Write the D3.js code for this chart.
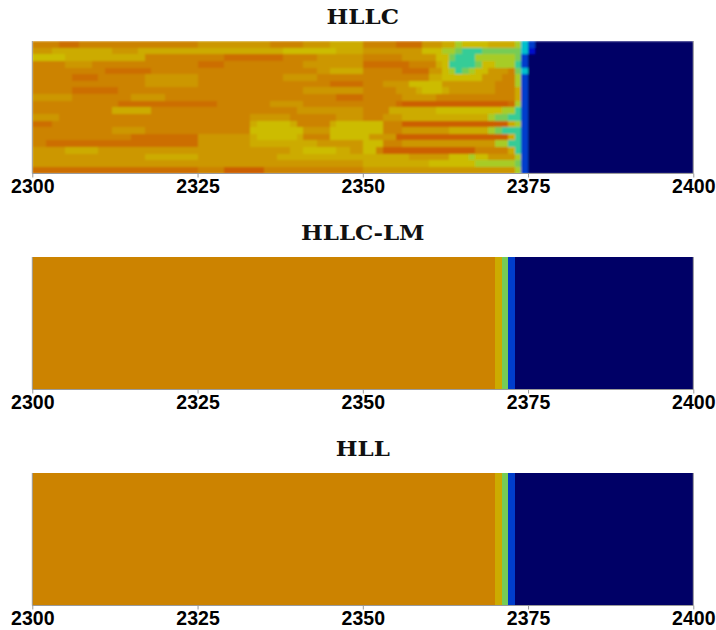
<!DOCTYPE html>
<html>
<head>
<meta charset="utf-8">
<script src="https://cdn.jsdelivr.net/npm/d3@7"></script>
<style>
  html, body { margin: 0; padding: 0; background: #fff; }
  svg { display: block; }
</style>
</head>
<body>
<svg id="chart" width="716" height="630"></svg>
<script>
// Panel titles (one solver per panel)
const titles = ["HLLC", "HLLC-LM", "HLL"];

// Axis
const xDomain = [2300, 2400];
const xTicks = [2300, 2325, 2350, 2375, 2400];

// Field level codes -> normalised value on the jet colour map
const levelCodes = ["n", "B", "b", "c", "t", "G", "g", "Y", "y", "a", "o", "r", "R"];
const levelValues = [0, 0.14, 0.2, 0.36, 0.44, 0.52, 0.58, 0.645, 0.665, 0.69, 0.715, 0.74, 0.76];

// HLLC field: 20 rows, run-length coded (level code + number of unit cells from x = 2300)
const hllcRows = [
  "o4 r3 o18  a11 o5 a4 y5  o5 r4 a3 y2 g1 Y4 y4 g1 c1 b1  n24",
  "a3 y9 a4 y9  y13 Y8 y4  a9 Y3 g2 G1 t3 G6 c1 B1  n24",
  "Y5 y12 o8  o4 r9 o5 a7  o6 a5 Y2 G1 t3 g6 G1 b1  n25",
  "o5 a4 o16  r4 o12 a9  r7 o4 y1 Y1 t4 G1 Y2 g3 t1 b1  n25",
  "o11 r7 o7  o18 a2 y5  o6 r4 a2 Y1 g1 t1 G1 g1 Y2 a3 o1 G1 c1  n25",
  "o6 r4 o7 a8  o13 a5 o7  o10 y2 Y6 a3 o2 g1 b1  n25",
  "o17 a8  o20 r5  o3 a4 Y5 a8 o3 g1 b1  n25",
  "o6 r7 o12  o16 a9  o5 a3 y1 Y3 y1 a7 o3 y1 b1  n25",
  "a6 o9 a5 o5  o21 r4  o6 a5 o12 y1 b1  n25",
  "o13 r12  r3 o8 a5 o9  o5 r1 R16 r1 g1 b1  n25",
  "o12 y6 o7  o15 a10  o4 y7 Y10 g2 t1 b1  n25",
  "a4 o21  o8 a6 o7 a4  o3 a3 y13 g1 G2 t2 b1  n25",
  "r3 o22  o8 y1 Y5 y1 o5 y1 Y4  Y3 o3 R16 y1 g1 b1  n25",
  "o12 a5 o8  o8 Y8 a4 Y5  Y3 o3 a7 y6 g1 G1 t3 b1  n25",
  "o15 r10  a8 y1 Y6 y1 o4 Y5  Y1 a4 R17 y1 t1 b1  n25",
  "o2 r23  a8 y10 a7  Y3 o3 a14 g2 t2 b1  n25",
  "a5 y5 a15  a14 y2 Y5 y2 a2  Y2 o1 R14 o5 y1 t1 b1  n25",
  "a17 y8  a12 y13  y7 a6 Y3 g1 Y2 a4 g1 b1  n25",
  "a25  a25  y10 Y7 g6 G1 b1  n25",
  "r25  o4 R6 o15  a23 g1 b1  n25"
];

// HLLC-LM and HLL: the field is uniform across rows; one run-length profile per solver
const hllcLmProfile = "o70 y1 G1 b1 n27";
const hllProfile = "o70 y1 G1 b1 n27";
const nRows = 20;

// Jet colour map (rendered at 80% brightness)
const jet = d3.scaleLinear()
  .domain([0, 0.125, 0.375, 0.625, 0.875, 1])
  .range(["rgb(0,0,102)", "rgb(0,0,204)", "rgb(0,204,204)", "rgb(204,204,0)", "rgb(204,0,0)", "rgb(102,0,0)"])
  .interpolate(d3.interpolateRgb);
const codeValue = new Map(levelCodes.map((c, i) => [c, levelValues[i]]));

// expand a run-length coded row into one level code per cell
function expandRow(rle) {
  const out = [];
  rle.trim().split(/\s+/).forEach(tok => {
    const code = tok[0];
    const count = +tok.slice(1);
    for (let k = 0; k < count; k++) out.push(code);
  });
  return out;
}

const svg = d3.select("#chart");
const W = 716;
const margin = { left: 32.3, right: 716 - 693.3 };
const panelTops = [41, 257, 473];
const panelH = 132.5;

const x = d3.scaleLinear().domain(xDomain).range([margin.left, W - margin.right]);

const defs = svg.append("defs");
const blur = defs.append("filter").attr("id", "soft")
  .attr("x", "0%").attr("y", "0%").attr("width", "100%").attr("height", "100%");
blur.append("feGaussianBlur").attr("stdDeviation", 1.3).attr("edgeMode", "duplicate");
const blurLight = defs.append("filter").attr("id", "softLight")
  .attr("x", "0%").attr("y", "0%").attr("width", "100%").attr("height", "100%");
blurLight.append("feGaussianBlur").attr("stdDeviation", 0.5).attr("edgeMode", "duplicate");

const fields = [
  hllcRows,
  d3.range(nRows).map(() => hllcLmProfile),
  d3.range(nRows).map(() => hllProfile)
];

fields.forEach((rows, p) => {
  const top = panelTops[p];
  const y = d3.scaleBand().domain(d3.range(rows.length)).range([top, top + panelH]);
  const g = svg.append("g");

  defs.append("clipPath").attr("id", "clip" + p)
    .append("rect")
    .attr("x", x(xDomain[0])).attr("y", top)
    .attr("width", x(xDomain[1]) - x(xDomain[0])).attr("height", panelH);

  const cells = [];
  rows.forEach((rle, j) => {
    expandRow(rle).forEach((code, i) => {
      cells.push({ row: j, x0: xDomain[0] + i, v: codeValue.get(code) });
    });
  });

  g.append("g")
    .attr("clip-path", `url(#clip${p})`)
    .append("g")
    .attr("filter", p === 0 ? "url(#soft)" : "url(#softLight)")
    .selectAll("rect")
    .data(cells)
    .join("rect")
    .attr("shape-rendering", "crispEdges")
    .attr("x", d => x(d.x0))
    .attr("y", d => y(d.row))
    .attr("width", d => x(d.x0 + 1) - x(d.x0) + 0.8)
    .attr("height", y.bandwidth() + 0.8)
    .attr("fill", d => jet(d.v));

  // frame: left, right and bottom edges
  g.append("path")
    .attr("d", `M${x(xDomain[0])},${top}V${top + panelH}H${x(xDomain[1])}V${top}`)
    .attr("fill", "none")
    .attr("stroke", "#9a9a9a")
    .attr("stroke-width", 1);

  // title
  const cx = (x(xDomain[0]) + x(xDomain[1])) / 2;
  svg.append("text")
    .attr("transform", `translate(${cx},${top - 17}) scale(1.18,1)`)
    .attr("text-anchor", "middle")
    .attr("font-family", "'DejaVu Serif', serif")
    .attr("font-weight", "bold")
    .attr("font-size", 19.5)
    .attr("fill", "#111")
    .text(titles[p]);

  // x axis
  const axis = svg.append("g")
    .attr("transform", `translate(0,${top + panelH})`)
    .call(d3.axisBottom(x).tickValues(xTicks).tickFormat(d3.format("d"))
      .tickSize(4).tickSizeOuter(0).tickPadding(2));
  axis.select(".domain").remove();
  axis.selectAll(".tick line").attr("stroke", "#9a9a9a");
  axis.selectAll(".tick text")
    .attr("font-family", "'Liberation Sans', Arial, sans-serif")
    .attr("font-weight", "bold")
    .attr("font-size", 19.5)
    .attr("fill", "#000");
});
</script>
</body>
</html>
